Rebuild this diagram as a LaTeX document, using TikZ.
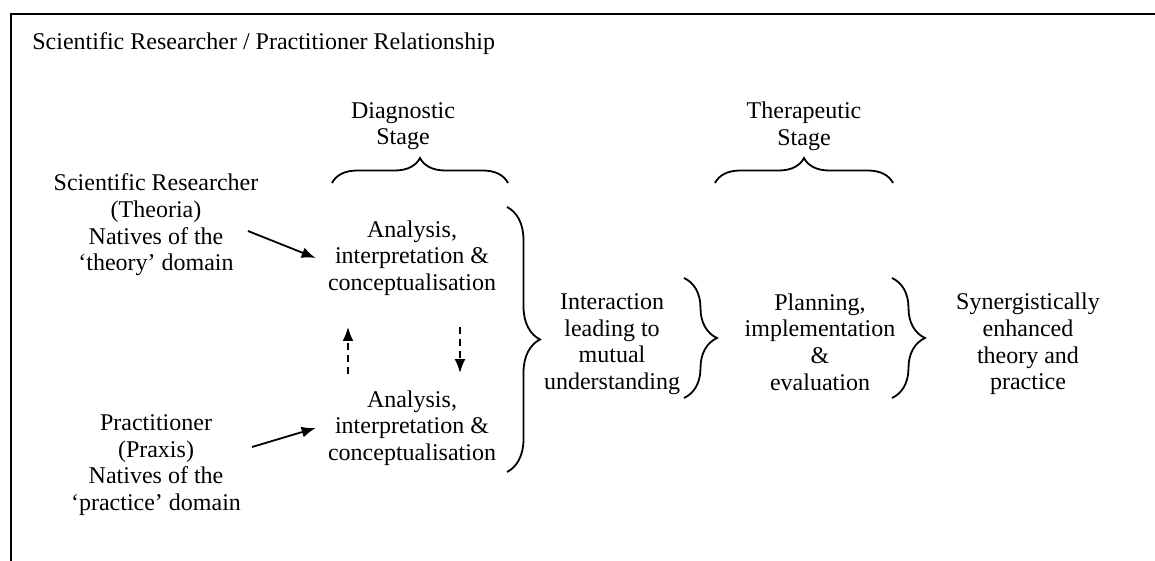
\documentclass[tikz,border=0pt]{standalone}
\usepackage{fontspec}
\setmainfont{Liberation Serif}
\usepackage{tikz}
\usetikzlibrary{positioning,decorations.pathreplacing,arrows.meta}

\begin{document}
\begin{tikzpicture}[
x=0.5pt,y=-0.5pt,
lbl/.style={
  align=center,
  inner sep=0pt,
  font=\fontsize{12}{13.35}\selectfont
},
brc/.style={
  decorate,
  line width=0.9pt,
  decoration={brace,amplitude=12.5pt}
},
tallbrc/.style={
  brc,
  decoration={brace,amplitude=16.5pt}
},
arr/.style={
  -{Latex[length=7pt,width=5.5pt]},
  line width=0.9pt
},
darr/.style={
  arr,
  dash pattern=on 3.5pt off 2.5pt
}
]
\useasboundingbox (0,0) rectangle (1155,561);
\draw[line width=1pt] (1155,14) -- (11,14) -- (11,561);

\node[lbl,anchor=west] (title) at (32,44) {Scientific Researcher / Practitioner Relationship};

\node[lbl] (diag) at (403,126) {Diagnostic\\Stage};
\node[lbl] (thera) at (804,126) {Therapeutic\\Stage};

\node[lbl] (theoria) at (156,225) {Scientific Researcher\\(Theoria)\\Natives of the\\‘theory’ domain};
\node[lbl] (praxis) at (156,465) {Practitioner\\(Praxis)\\Natives of the\\‘practice’ domain};

\node[lbl,inner xsep=6pt] (anaT) at (412,258) {Analysis,\\interpretation \&\\conceptualisation};
\node[lbl,inner xsep=6pt] (anaP) at (412,428) {Analysis,\\interpretation \&\\conceptualisation};

\node[lbl] (inter) at (612,344) {Interaction\\leading to\\mutual\\understanding};
\node[lbl] (plan) at (820,342) {Planning,\\implementation\\\&\\evaluation};
\node[lbl] (syn) at (1028,344) {Synergistically\\enhanced\\theory and\\practice};

% braces
\draw[brc] (332,183) -- (508,183);
\draw[brc] (715,183) -- (893,183);
\draw[tallbrc] (507,207) -- (507,472);
\draw[tallbrc] (684,278) -- (684,398);
\draw[tallbrc] (892,278) -- (892,398);

% arrows
\coordinate (thfrom) at (248,231);
\coordinate (prfrom) at (252,447);
\draw[arr] (thfrom) -- (anaT.west);
\draw[arr] (prfrom) -- (anaP.west);
\draw[darr,shorten <=8pt,shorten >=15.5pt] ([xshift=-32pt]anaP.north) -- ([xshift=-32pt]anaT.south);
\draw[darr,shorten <=15.5pt,shorten >=8.5pt] ([xshift=24pt]anaT.south) -- ([xshift=24pt]anaP.north);
\end{tikzpicture}
\end{document}
